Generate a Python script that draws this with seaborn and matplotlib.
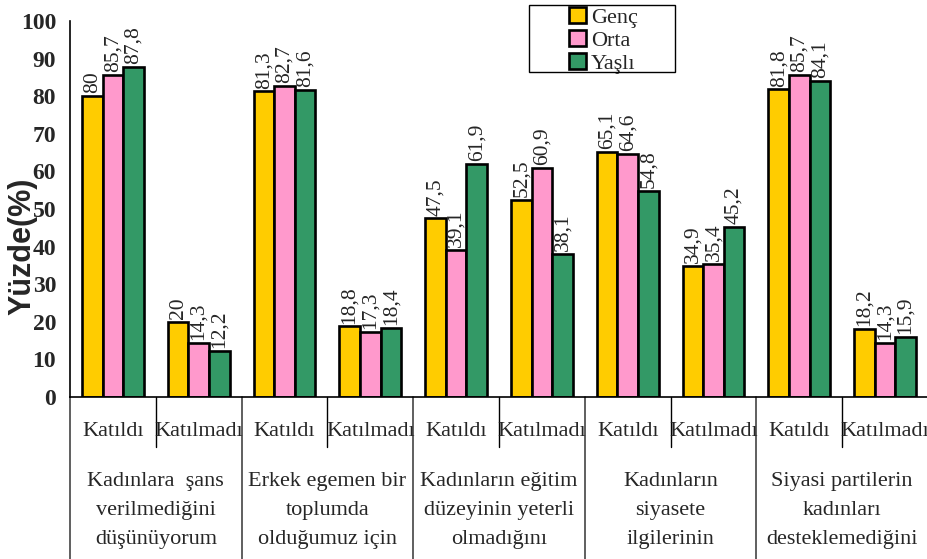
import pandas as pd
import numpy as np
from matplotlib import pyplot as plt
from matplotlib import transforms
from matplotlib.patches import Rectangle
import seaborn as sns

# data
groups = ["Kadınlara  şans\nverilmediğini\ndüşünüyorum",
          "Erkek egemen bir\ntoplumda\nolduğumuz için",
          "Kadınların eğitim\ndüzeyinin yeterli\nolmadığını",
          "Kadınların\nsiyasete\nilgilerinin",
          "Siyasi partilerin\nkadınları\ndesteklemediğini"]
answers = ["Katıldı", "Katılmadı"]
series = ["Genç", "Orta", "Yaşlı"]
genc = [80, 20, 81.3, 18.8, 47.5, 52.5, 65.1, 34.9, 81.8, 18.2]
orta = [85.7, 14.3, 82.7, 17.3, 39.1, 60.9, 64.6, 35.4, 85.7, 14.3]
yasli = [87.8, 12.2, 81.6, 18.4, 61.9, 38.1, 54.8, 45.2, 84.1, 15.9]
colors = ["#FFCC00", "#FF99CC", "#339966"]

cats = [f"{g}|{a}" for g in groups for a in answers]
df = pd.DataFrame({
    "cat": cats * 3,
    "grup": np.repeat(series, len(cats)),
    "yuzde": genc + orta + yasli,
})

sns.set_style("white")
plt.rcParams["font.family"] = "serif"
plt.rcParams["font.serif"] = ["Liberation Serif", "DejaVu Serif"]

fig = plt.figure(figsize=(9.28, 5.59), dpi=100)
ax = fig.add_axes([0.0754, 0.2898, 0.9246, 0.6726])

sns.barplot(data=df, x="cat", y="yuzde", hue="grup", order=cats,
            hue_order=series, palette=colors, width=0.72, saturation=1,
            edgecolor="black", linewidth=1.9, ax=ax, legend=True)

for cont in ax.containers:
    labels = [f"{v:g}".replace(".", ",") for v in cont.datavalues]
    ax.bar_label(cont, labels=labels, rotation=90, padding=2, fontsize=15.5)

ax.set_ylim(0, 100)
ax.set_xlim(-0.5, len(cats) - 0.5)
ax.set_yticks(range(0, 101, 10))
ax.tick_params(axis="y", labelsize=17, length=6, width=1, direction="out", pad=4)
for t in ax.get_yticklabels():
    t.set_fontweight("bold")
ax.set_xticks([])
ax.set_xlabel("")
ax.set_ylabel("Yüzde(%)", fontsize=22, fontweight="bold",
              family=["Liberation Sans", "DejaVu Sans"])
ax.yaxis.set_label_coords(-0.038, 0.40)
sns.despine(ax=ax)
for s in ["left", "bottom"]:
    ax.spines[s].set_color("black")
    ax.spines[s].set_linewidth(1.2)

# category table below the axis
trans = transforms.blended_transform_factory(ax.transData, ax.transAxes)
for i in range(len(cats) + 1):
    x = i - 0.5
    if i % 2 == 0:
        ax.plot([x, x], [0, -0.44], transform=trans, color="#444444",
                lw=1.2, clip_on=False)
    else:
        ax.plot([x, x], [0, -0.133], transform=trans, color="black",
                lw=1.0, clip_on=False)
for i, c in enumerate(cats):
    ax.text(i, -0.093, c.split("|")[1], transform=trans, ha="center",
            va="center", fontsize=16)
for j, g in enumerate(groups):
    ax.text(2 * j + 0.5, -0.20, g, transform=trans, ha="center", va="top",
            fontsize=16, linespacing=1.72)

# legend: entries without frame, box drawn separately (wide box as in source)
leg = ax.legend(loc="upper left", bbox_to_anchor=(0.613, 0.988),
                bbox_transform=fig.transFigure, frameon=False, fontsize=16,
                handlelength=0.75, handleheight=0.75, handletextpad=0.25,
                borderpad=0, labelspacing=0.1, borderaxespad=0)
for h in leg.legend_handles:
    h.set_edgecolor("black")
    h.set_linewidth(1.9)
fig.patches.append(Rectangle((0.570, 0.871), 0.157, 0.12,
                             transform=fig.transFigure, fill=False,
                             edgecolor="black", linewidth=1.0))

plt.savefig("out.png", dpi=100)
